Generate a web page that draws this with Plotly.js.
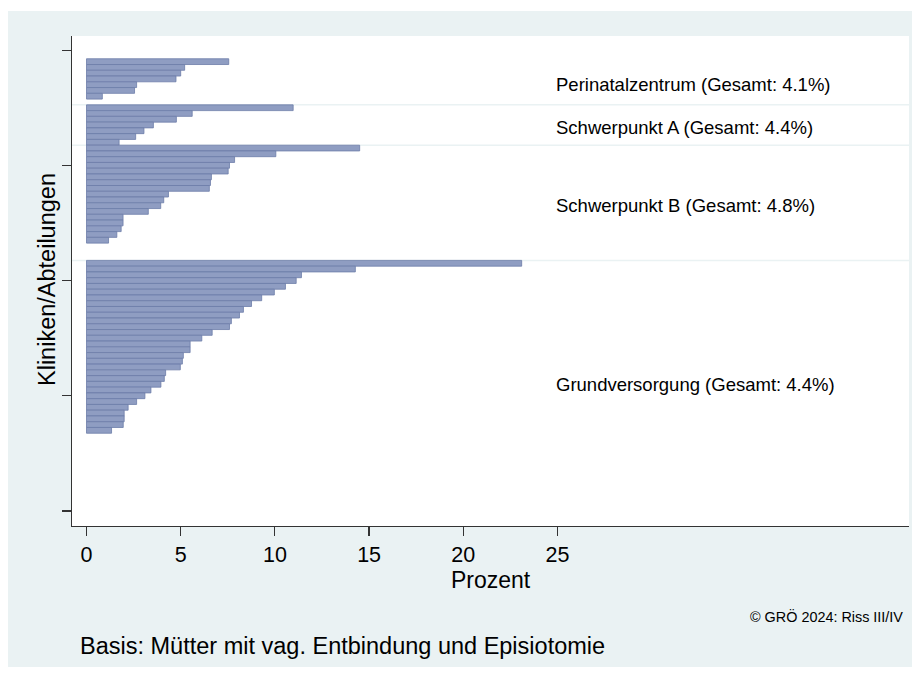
<!DOCTYPE html>
<html>
<head>
<meta charset="utf-8">
<script src="https://cdn.plot.ly/plotly-3.0.1.min.js"></script>
<style>html,body{margin:0;padding:0;background:#fff;}#chart{width:920px;height:677px;}</style>
</head>
<body>
<div id="chart"></div>
<script>
// Data (percent per clinic, sorted within each care level)
const groupNames = ["Perinatalzentrum", "Schwerpunkt A", "Schwerpunkt B", "Grundversorgung"];
const groupTotals = [4.1, 4.4, 4.8, 4.4];
const groupStartRank = [2, 10, 17, 37];
const groupLabelRank = [6, 13.5, 26.9, 58.1];
const groupBoundaries = [9.5, 16.5, 36.5];
const perinatal = [7.55, 5.21, 5.0, 4.75, 2.66, 2.55, 0.84];
const schwerpunktA = [10.97, 5.61, 4.77, 3.55, 3.05, 2.61, 1.73];
const schwerpunktB = [14.5, 10.05, 7.86, 7.59, 7.52, 6.63, 6.58, 6.52, 4.35, 4.1, 3.94, 3.28, 1.94, 1.94, 1.84, 1.61, 1.17];
const grundversorgung = [23.1, 14.27, 11.41, 11.13, 10.56, 9.97, 9.3, 8.76, 8.33, 8.12, 7.69, 7.59, 6.67, 6.12, 5.5, 5.5, 5.14, 5.09, 4.98, 4.2, 4.13, 3.95, 3.42, 3.1, 2.66, 2.21, 2.0, 2.0, 1.95, 1.33];
const xTicks = [0, 5, 10, 15, 20, 25];
const yTicks = [0, 20, 40, 60, 80];

const groups = [perinatal, schwerpunktA, schwerpunktB, grundversorgung];
const xs = [], ys = [];
groups.forEach((g, gi) => g.forEach((v, i) => { xs.push(v); ys.push(groupStartRank[gi] + i); }));

const bg = "#eaf2f3";
const font = "Liberation Sans, Arial, sans-serif";

const trace = {
  type: "bar", orientation: "h", x: xs, y: ys, width: 1,
  marker: {color: "rgb(143,157,194)", line: {color: "rgb(108,124,168)", width: 0.8}},
  hoverinfo: "x"
};

const shapes = [
  {type: "rect", xref: "paper", yref: "paper", x0: -0.0765, x1: 1.0036, y0: -0.2878, y1: 1.051,
   fillcolor: bg, line: {width: 0}, layer: "below"},
  {type: "rect", xref: "paper", yref: "paper", x0: 0, x1: 1, y0: 0, y1: 1,
   fillcolor: "#ffffff", line: {width: 0}, layer: "below"}
];
groupBoundaries.forEach(b => shapes.push({type: "line", xref: "paper", yref: "y", x0: 0, x1: 1, y0: b, y1: b,
  line: {color: bg, width: 1.5}, layer: "below"}));

const annotations = groupNames.map((n, i) => ({
  x: 24.8, y: groupLabelRank[i], xref: "x", yref: "y", xanchor: "left", yanchor: "middle",
  text: n + " (Gesamt: " + groupTotals[i].toFixed(1) + "%)", showarrow: false,
  font: {family: font, size: 18.5, color: "#000"}
}));
annotations.push({xref: "paper", yref: "paper", x: 0.5, y: (526 - 580) / 490, xanchor: "center", yanchor: "middle",
  text: "Prozent", showarrow: false, font: {family: font, size: 23, color: "#000"}});
annotations.push({xref: "paper", yref: "paper", x: (47 - 72) / 837, y: (526 - 280) / 490, xanchor: "center", yanchor: "middle",
  text: "Kliniken/Abteilungen", textangle: -90, showarrow: false, font: {family: font, size: 23.5, color: "#000"}});
annotations.push({xref: "paper", yref: "paper", x: (905 - 72) / 837, y: (526 - 616) / 490, xanchor: "right", yanchor: "middle",
  text: "© GRÖ 2024: Riss III/IV", showarrow: false, font: {family: font, size: 14.4, color: "#000"}});
annotations.push({xref: "paper", yref: "paper", x: (78 - 72) / 837, y: (526 - 646) / 490, xanchor: "left", yanchor: "middle",
  text: "Basis: Mütter mit vag. Entbindung und Episiotomie", showarrow: false, font: {family: font, size: 23.5, color: "#000"}});

const layout = {
  width: 920, height: 677,
  margin: {l: 72, r: 11, t: 36, b: 151},
  paper_bgcolor: "#ffffff", plot_bgcolor: "#ffffff",
  showlegend: false, bargap: 0,
  font: {family: font, color: "#000"},
  xaxis: {
    range: [-0.77, 43.66], tickvals: xTicks, ticktext: xTicks.map(String),
    showgrid: false, zeroline: false, showline: true, linecolor: "#333", linewidth: 1.3,
    ticks: "outside", ticklen: 9, tickcolor: "#333", tickwidth: 1.2,
    tickfont: {family: font, size: 21.5, color: "#000"}
  },
  yaxis: {
    range: [82.6, -2.45], tickvals: yTicks, showticklabels: false,
    showgrid: false, zeroline: false, showline: true, linecolor: "#333", linewidth: 1.3,
    ticks: "outside", ticklen: 9, tickcolor: "#333", tickwidth: 1.2
  },
  shapes: shapes,
  annotations: annotations
};

Plotly.newPlot("chart", [trace], layout, {staticPlot: true});
</script>
</body>
</html>
